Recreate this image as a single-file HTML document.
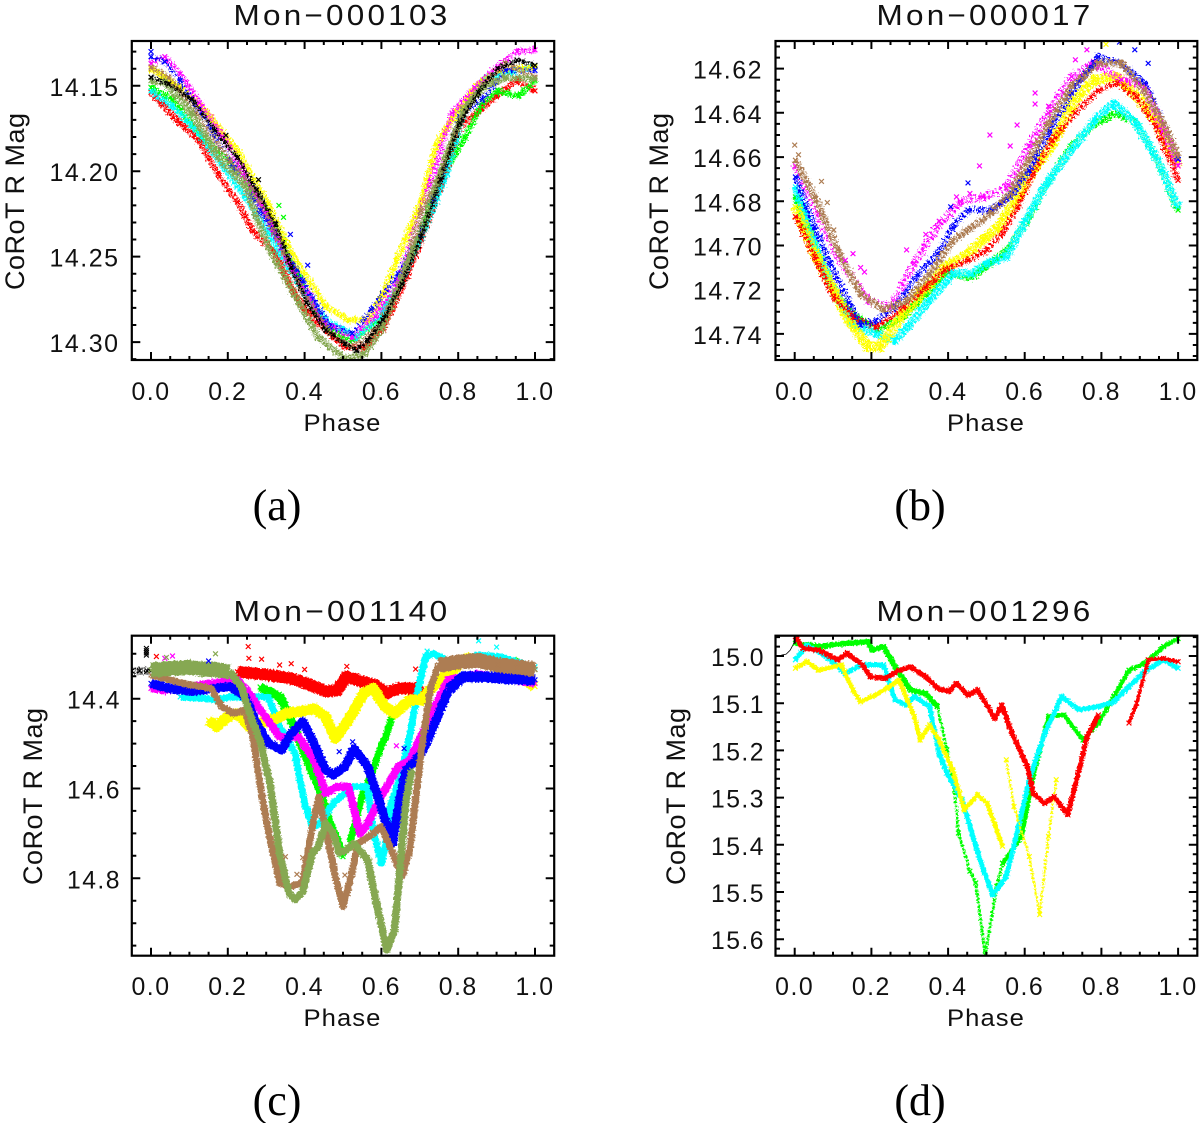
<!DOCTYPE html>
<html lang="en">
<head>
<meta charset="utf-8">
<title>CoRoT light curves</title>
<style>
html,body{margin:0;padding:0;background:#fff}
svg{display:block}
text{font-family:"Liberation Sans",sans-serif;fill:#111}
.cap{font-family:"Liberation Serif",serif;font-size:44px;fill:#000}
.title{font-size:29px;letter-spacing:3px}
.xt{font-size:24px;letter-spacing:1px}
.yt{font-size:27px}
.tk{font-size:25px;letter-spacing:1.5px}
</style>
</head>
<body>
<svg id="fig" xmlns="http://www.w3.org/2000/svg" width="1200" height="1123" viewBox="0 0 1200 1123">
<defs>
<filter id="fuzz1" filterUnits="userSpaceOnUse" x="0" y="0" width="1200" height="1123" color-interpolation-filters="sRGB"><feTurbulence type="fractalNoise" baseFrequency="0.55" numOctaves="1" seed="3" result="n"/><feDisplacementMap in="SourceGraphic" in2="n" scale="9" xChannelSelector="R" yChannelSelector="G"/></filter>
<filter id="fuzz2" filterUnits="userSpaceOnUse" x="0" y="0" width="1200" height="1123" color-interpolation-filters="sRGB"><feTurbulence type="fractalNoise" baseFrequency="0.6" numOctaves="1" seed="11" result="n"/><feDisplacementMap in="SourceGraphic" in2="n" scale="4.5" xChannelSelector="R" yChannelSelector="G"/></filter>
</defs>
<rect x="0" y="0" width="1200" height="1123" fill="#fff"/>
<g id="plots"></g>
<text class="title" x="342" y="25" text-anchor="middle" textLength="217" lengthAdjust="spacingAndGlyphs">Mon−000103</text>
<text class="title" x="985" y="25" text-anchor="middle" textLength="217" lengthAdjust="spacingAndGlyphs">Mon−000017</text>
<text class="title" x="342" y="621" text-anchor="middle" textLength="217" lengthAdjust="spacingAndGlyphs">Mon−001140</text>
<text class="title" x="985" y="621" text-anchor="middle" textLength="217" lengthAdjust="spacingAndGlyphs">Mon−001296</text>
<text class="xt" x="342.5" y="431" text-anchor="middle" textLength="78" lengthAdjust="spacingAndGlyphs">Phase</text>
<text class="xt" x="986" y="431" text-anchor="middle" textLength="78" lengthAdjust="spacingAndGlyphs">Phase</text>
<text class="xt" x="342.5" y="1026" text-anchor="middle" textLength="78" lengthAdjust="spacingAndGlyphs">Phase</text>
<text class="xt" x="986" y="1026" text-anchor="middle" textLength="78" lengthAdjust="spacingAndGlyphs">Phase</text>
<text class="yt" transform="translate(24,201.5) rotate(-90)" text-anchor="middle" textLength="177">CoRoT R Mag</text>
<text class="yt" transform="translate(668,201.5) rotate(-90)" text-anchor="middle" textLength="177">CoRoT R Mag</text>
<text class="yt" transform="translate(42,796.5) rotate(-90)" text-anchor="middle" textLength="177">CoRoT R Mag</text>
<text class="yt" transform="translate(685,796.5) rotate(-90)" text-anchor="middle" textLength="177">CoRoT R Mag</text>
<text class="cap" x="277" y="520" text-anchor="middle">(a)</text>
<text class="cap" x="920" y="520" text-anchor="middle">(b)</text>
<text class="cap" x="277" y="1115" text-anchor="middle">(c)</text>
<text class="cap" x="920" y="1115" text-anchor="middle">(d)</text>
</svg>
<script>
// ---------- shared axis values ----------
const xTickValues=[0,0.2,0.4,0.6,0.8,1.0];
const xTickLabels=["0.0","0.2","0.4","0.6","0.8","1.0"];

// ---------- panel a : Mon-000103 ----------
const aYTicks=[14.15,14.20,14.25,14.30];
const aYLabels=["14.15","14.20","14.25","14.30"];
const aRedP=[0,.076,.125,.175,.225,.265,.325,.375,.405,.465,.505,.555,.604,.654,.704,.754,.804,.853,.903,.953,1];
const aRedM=[14.154,14.172,14.182,14.202,14.218,14.235,14.249,14.272,14.282,14.295,14.303,14.303,14.292,14.268,14.240,14.210,14.174,14.165,14.155,14.147,14.153];
const aGreenP=[0,.055,.125,.205,.285,.345,.395,.455,.525,.585,.644,.704,.754,.818,.863,.903,.958,1];
const aGreenM=[14.151,14.158,14.178,14.195,14.217,14.24,14.268,14.291,14.299,14.288,14.268,14.236,14.205,14.18,14.16,14.153,14.156,14.147];
const aCyanP=[0,.056,.126,.245,.305,.385,.455,.534,.604,.654,.714,.764,.814,.873,.933,1];
const aCyanM=[14.153,14.162,14.178,14.215,14.236,14.266,14.287,14.297,14.283,14.264,14.233,14.205,14.166,14.145,14.142,14.139];
const aYellowP=[0,.076,.146,.225,.305,.365,.455,.514,.564,.604,.704,.744,.794,.853,.903,1];
const aYellowM=[14.14,14.151,14.166,14.188,14.219,14.248,14.279,14.287,14.287,14.272,14.217,14.184,14.166,14.149,14.141,14.139];
const aMagentaP=[0,.036,.076,.126,.205,.285,.355,.455,.524,.584,.644,.724,.784,.843,.903,.953,1];
const aMagentaM=[14.137,14.133,14.143,14.16,14.186,14.219,14.252,14.289,14.297,14.285,14.264,14.209,14.166,14.151,14.139,14.13,14.129];
const aBlueP=[0,.036,.076,.285,.325,.395,.465,.524,.574,.644,.704,.754,.804,.863,.923,1];
const aBlueM=[14.133,14.136,14.147,14.223,14.238,14.264,14.291,14.295,14.281,14.26,14.236,14.205,14.168,14.158,14.141,14.141];
const aBrownP=[0,.046,.116,.205,.285,.345,.405,.465,.524,.594,.654,.704,.754,.814,.863,.923,1];
const aBrownM=[14.139,14.145,14.166,14.194,14.217,14.248,14.275,14.295,14.303,14.291,14.264,14.223,14.201,14.166,14.149,14.137,14.145];
const aOliveP=[0,.036,.106,.175,.245,.305,.385,.435,.505,.554,.604,.664,.704,.754,.814,.863,.923,1];
const aOliveM=[14.147,14.148,14.166,14.192,14.209,14.244,14.277,14.297,14.31,14.307,14.291,14.256,14.236,14.201,14.164,14.151,14.145,14.146];
const aBlackP=[0,.046,.106,.166,.225,.275,.325,.365,.405,.455,.505,.534,.564,.604,.654,.704,.754,.804,.853,.903,.953,1];
const aBlackM=[14.145,14.149,14.158,14.176,14.192,14.211,14.231,14.256,14.277,14.293,14.301,14.305,14.299,14.287,14.266,14.238,14.205,14.172,14.154,14.140,14.135,14.138];
const aStrayGreenP=[.333,.345];
const aStrayGreenM=[14.22,14.227];
const aStrayBlueP=[.363,.408,0];
const aStrayBlueM=[14.237,14.255,14.13];
const aStrayBlackP=[.28,.195];
const aStrayBlackM=[14.205,14.179];

// ---------- panel b : Mon-000017 ----------
const bYTicks=[14.62,14.64,14.66,14.68,14.70,14.72,14.74];
const bYLabels=["14.62","14.64","14.66","14.68","14.70","14.72","14.74"];
const bRedP=[.002,.052,.102,.152,.212,.282,.342,.392,.452,.502,.542,.582,.622,.672,.732,.792,.842,.892,.942,1];
const bRedM=[14.687,14.705,14.7233,14.7324,14.737,14.728,14.719,14.711,14.7067,14.702,14.6946,14.6825,14.6675,14.6523,14.64,14.63,14.6266,14.6327,14.6463,14.6705];
const bGreenP=[.002,.052,.102,.152,.212,.282,.342,.392,.462,.512,.562,.612,.662,.722,.782,.842,.892,.942,1];
const bGreenM=[14.678,14.7007,14.7218,14.731,14.7384,14.7324,14.7218,14.7127,14.7143,14.708,14.7007,14.687,14.6705,14.6553,14.6448,14.6402,14.6448,14.66,14.684];
const bCyanP=[.002,.052,.102,.152,.212,.262,.302,.352,.412,.462,.502,.552,.602,.662,.722,.782,.832,.892,.942,1];
const bCyanM=[14.6735,14.6992,14.7203,14.7354,14.74,14.743,14.7354,14.7248,14.7127,14.7127,14.708,14.7052,14.6886,14.6705,14.6568,14.6433,14.6357,14.6448,14.66,14.6825];
const bYellowP=[.002,.052,.102,.142,.192,.222,.282,.392,.442,.492,.532,.572,.622,.672,.732,.782,.842,.892,.942,1];
const bYellowM=[14.6825,14.7037,14.7203,14.734,14.746,14.746,14.731,14.7097,14.705,14.6976,14.6916,14.681,14.666,14.654,14.634,14.625,14.6236,14.6327,14.643,14.664];
const bMagentaP=[.002,.062,.112,.192,.252,.312,.372,.432,.492,.552,.612,.662,.722,.782,.852,.912,.962,1];
const bMagentaM=[14.664,14.6855,14.705,14.725,14.728,14.708,14.6916,14.68,14.678,14.674,14.655,14.64,14.6236,14.6176,14.625,14.628,14.648,14.664];
const bBlueP=[.002,.052,.092,.142,.172,.212,.262,.322,.372,.412,.452,.512,.562,.612,.662,.722,.792,.852,.912,.962,1];
const bBlueM=[14.669,14.6916,14.708,14.726,14.736,14.734,14.728,14.713,14.7037,14.6916,14.684,14.684,14.678,14.666,14.649,14.631,14.6146,14.6176,14.6266,14.645,14.661];
const bBrownP=[.002,.052,.112,.172,.232,.292,.352,.412,.452,.512,.562,.612,.662,.722,.792,.852,.912,.962,1];
const bBrownM=[14.6614,14.678,14.702,14.722,14.729,14.725,14.713,14.698,14.693,14.6855,14.6765,14.661,14.645,14.628,14.6175,14.6175,14.63,14.645,14.66];
const bStrayMagentaP=[.172,.132,.152,.182,.292,.342,.377,.422,.457,.482,.509,.562,.58,.627,.627,.662,.732,.762];
const bStrayMagentaM=[14.71,14.7067,14.7037,14.712,14.702,14.695,14.689,14.678,14.6765,14.664,14.65,14.655,14.6455,14.631,14.636,14.637,14.616,14.6115];
const bStrayBlueP=[.452,.407,.847,.887,.922];
const bStrayBlueM=[14.6717,14.6825,14.608,14.6115,14.6176];
const bStrayBrownP=[0,.01,.07,.085,.102];
const bStrayBrownM=[14.6546,14.659,14.671,14.6806,14.693];
const bStrayYellowP=[.812];
const bStrayYellowM=[14.609];

// ---------- panel c : Mon-001140 ----------
const cYTicks=[14.4,14.6,14.8];
const cYLabels=["14.4","14.6","14.8"];
const cBlackP=[-.05,-.03,-.01,0];
const cBlackM=[14.338,14.338,14.338,14.338];
const cRedP=[.225,.305,.365,.405,.455,.485,.509,.534,.584,.614,.644,.694,.709];
const cRedM=[14.34,14.347,14.355,14.366,14.384,14.381,14.351,14.358,14.37,14.388,14.377,14.377,14.403];
const cGreenTopP=[.284,.336,.362,.414,.44,.461,.487,.5];
const cGreenTopM=[14.374,14.396,14.441,14.552,14.603,14.67,14.721,14.752];
const cGreenRiseP=[.518,.536,.552,.578,.596,.615,.63,.643,.661];
const cGreenRiseM=[14.721,14.663,14.61,14.559,14.514,14.476,14.432,14.425,14.414];
const cGreenRightP=[.79,.85,.95,1];
const cGreenRightM=[14.325,14.31,14.315,14.335];
const cCyanP=[.076,.126,.175,.205,.305,.335,.375,.4,.42,.44,.475,.525,.564,.579,.6,.61,.625,.65,.675,.695,.715,.735,.785,.853,.903,1];
const cCyanM=[14.396,14.399,14.403,14.396,14.396,14.462,14.522,14.633,14.685,14.678,14.633,14.596,14.596,14.692,14.767,14.73,14.633,14.574,14.477,14.381,14.306,14.299,14.321,14.303,14.306,14.329];
const cYellowP=[.15,.17,.2,.229,.255,.325,.35,.385,.425,.455,.48,.514,.554,.579,.609,.634,.674,.704,.734,.769,.823,.903,1];
const cYellowM=[14.448,14.462,14.44,14.433,14.462,14.444,14.433,14.429,14.422,14.44,14.488,14.448,14.388,14.377,14.418,14.433,14.403,14.403,14.373,14.347,14.31,14.321,14.373];
const cMagentaP=[0,.036,.225,.255,.285,.335,.385,.425,.455,.485,.514,.544,.564,.604,.644,.674,.744,.774,.85,1];
const cMagentaM=[14.377,14.381,14.358,14.388,14.425,14.485,14.485,14.537,14.611,14.596,14.596,14.70,14.678,14.611,14.551,14.537,14.41,14.358,14.345,14.366];
const cBlueP=[0,.046,.106,.166,.205,.245,.275,.305,.34,.365,.395,.42,.455,.475,.505,.529,.564,.594,.629,.644,.664,.689,.709,.739,.774];
const cBlueM=[14.366,14.377,14.384,14.377,14.373,14.396,14.455,14.499,14.514,14.477,14.451,14.492,14.559,14.57,14.551,14.511,14.551,14.626,14.722,14.641,14.559,14.537,14.514,14.455,14.381];
const cBlueFlatP=[.774,.813,.863,.923,1];
const cBlueFlatM=[14.381,14.351,14.351,14.355,14.358];
const cBrownP=[0,.046,.106,.156,.185,.215,.245,.265,.285,.305,.335,.365,.395,.415,.437,.455,.48,.5,.519,.539,.569,.599,.619,.654,.674,.704,.729,.749];
const cBrownM=[14.347,14.358,14.37,14.377,14.418,14.433,14.425,14.485,14.596,14.692,14.811,14.819,14.808,14.707,14.618,14.692,14.796,14.863,14.804,14.722,14.707,14.685,14.722,14.796,14.737,14.514,14.373,14.325];
const cBrownFlatP=[.749,.804,.853,.903,.953,1];
const cBrownFlatM=[14.325,14.318,14.315,14.325,14.329,14.335];
const cOliveFlatP=[0,.046,.096,.126,.175,.205];
const cOliveFlatM=[14.336,14.333,14.33,14.333,14.336,14.34];
const cOliveDipP=[.205,.235,.26,.285,.31,.335,.36,.375,.395,.42,.435,.455,.475,.49,.509,.529,.564,.589,.614,.634,.649,.664,.679];
const cOliveDipM=[14.34,14.373,14.44,14.496,14.589,14.744,14.834,14.848,14.83,14.744,14.73,14.678,14.70,14.744,14.737,14.722,14.759,14.863,14.96,14.915,14.774,14.626,14.559];
const cStrayRedP=[.253,.255,.288,.014,.689,.335,.365,.4,.51];
const cStrayRedM=[14.284,14.31,14.312,14.306,14.334,14.325,14.322,14.335,14.328];
const cStrayMagentaP=[.056,.036,.639];
const cStrayMagentaM=[14.305,14.31,14.505];
const cStrayBrownP=[.38,.395,.35,.505];
const cStrayBrownM=[14.791,14.754,14.752,14.793];
const cStrayOliveP=[.168,.04];
const cStrayOliveM=[14.3,14.308];
const cStrayCyanP=[.853,.719,.9];
const cStrayCyanM=[14.271,14.294,14.285];
const cStrayBlueP=[.15,.49,.659,.525];
const cStrayBlueM=[14.316,14.518,14.511,14.496];
const cStrayBlackP=[-.012,-.012,-.012,-.012];
const cStrayBlackM=[14.288,14.293,14.298,14.303];

// ---------- panel d : Mon-001296 ----------
const dYTicks=[15.0,15.1,15.2,15.3,15.4,15.5,15.6];
const dYLabels=["15.0","15.1","15.2","15.3","15.4","15.5","15.6"];
const dBlackP=[-.035,-.022,-.012,-.004,.002];
const dBlackM=[14.998,14.996,14.988,14.976,14.965];
const dRedAP=[.002,.022,.062,.112,.137,.177,.197,.237,.272,.302,.342,.372,.402,.422,.452,.477,.522,.54,.567,.607,.622,.652,.677,.712,.742,.762,.792];
const dRedAM=[14.959,14.984,14.987,15.008,14.994,15.019,15.044,15.047,15.03,15.023,15.044,15.068,15.075,15.058,15.083,15.072,15.132,15.104,15.164,15.234,15.291,15.312,15.298,15.336,15.241,15.171,15.125];
const dRedBP=[.872,.892,.922,.962,1];
const dRedBM=[15.142,15.1,15.008,15.005,15.012];
const dGreenAP=[.002,.067,.132,.192,.202,.232,.262,.302,.342,.372];
const dGreenAM=[14.973,14.98,14.973,14.97,14.987,14.98,15.023,15.072,15.079,15.107];
const dGreenBP=[.372,.397,.417,.427,.457,.472,.497,.527,.542];
const dGreenBM=[15.107,15.199,15.284,15.375,15.456,15.481,15.633,15.488,15.439];
const dGreenCP=[.542,.592,.622,.662,.702,.752,.792,.832,.872,.912,.962,1];
const dGreenCM=[15.439,15.382,15.255,15.128,15.125,15.178,15.142,15.086,15.03,15.016,14.98,14.963];
const dCyanP=[.002,.032,.082,.132,.172,.232,.262,.292,.312,.352,.377,.397,.437,.462,.492,.517,.552,.582,.612,.652,.697,.742,.792,.832,.872,.912,.962,1];
const dCyanM=[15.008,14.977,15.001,15.037,15.019,15.019,15.093,15.104,15.086,15.107,15.206,15.248,15.305,15.375,15.453,15.506,15.467,15.368,15.262,15.164,15.086,15.114,15.107,15.097,15.065,15.033,15.008,15.026];
const dYellowAP=[.002,.032,.062,.122,.152,.172,.202,.242,.272,.312,.327,.352,.377,.412,.442,.477,.502,.542];
const dYellowAM=[15.026,15.012,15.03,15.019,15.072,15.097,15.086,15.068,15.051,15.128,15.178,15.146,15.178,15.241,15.326,15.294,15.312,15.403];
const dYellowBP=[.552,.572,.612,.639,.662,.682];
const dYellowBM=[15.22,15.319,15.425,15.548,15.382,15.262];

// ---------- colours ----------
const RED="#ff0000",GREEN="#00ff00",BLUE="#0000ff",CYAN="#00ffff",YELLOW="#ffff00",MAGENTA="#ff00ff",BROWN="#ad7d53",OLIVE="#86a852",BLACK="#000000";

// ---------- panels ----------
const panels=[
 {id:"a",left:131.8,right:554.2,top:41,bottom:360,yMin:14.1238,yMax:14.3105,yTicks:aYTicks,yLabels:aYLabels,yMinor:0.01,labelRight:119.5,labelW:70,xBase:400,fuzz:"fuzz1",
  series:[
  ["red",RED,aRedP,aRedM,6,"3 1"],["green",GREEN,aGreenP,aGreenM,6,"3 1"],["cyan",CYAN,aCyanP,aCyanM,6,"3 1"],["yellow",YELLOW,aYellowP,aYellowM,6,"3 1"],["magenta",MAGENTA,aMagentaP,aMagentaM,6,"2 2"],["blue",BLUE,aBlueP,aBlueM,5,"2 2.5"],["brown",BROWN,aBrownP,aBrownM,6,"2 2"],["olive",OLIVE,aOliveP,aOliveM,7,"3 1"],["black",BLACK,aBlackP,aBlackM,4,"3 1.5"],
  ["stray-green",GREEN,aStrayGreenP,aStrayGreenM,0,""],["stray-blue",BLUE,aStrayBlueP,aStrayBlueM,0,""],["stray-black",BLACK,aStrayBlackP,aStrayBlackM,0,""]]},
 {id:"b",left:775.5,right:1197.3,top:41,bottom:360,yMin:14.6075,yMax:14.7518,yTicks:bYTicks,yLabels:bYLabels,yMinor:0.005,labelRight:763,labelW:70,xBase:400,fuzz:"fuzz1",
  series:[
  ["green",GREEN,bGreenP,bGreenM,7,"3 1"],["cyan",CYAN,bCyanP,bCyanM,8,"3 1"],["yellow",YELLOW,bYellowP,bYellowM,10,"3 1"],["red",RED,bRedP,bRedM,6,"2.5 2"],["magenta",MAGENTA,bMagentaP,bMagentaM,8,"2 2.5"],["blue",BLUE,bBlueP,bBlueM,6,"2.5 2"],["brown",BROWN,bBrownP,bBrownM,7,"3 1.5"],
  ["stray-magenta",MAGENTA,bStrayMagentaP,bStrayMagentaM,0,""],["stray-blue",BLUE,bStrayBlueP,bStrayBlueM,0,""],["stray-brown",BROWN,bStrayBrownP,bStrayBrownM,0,""],["stray-yellow",YELLOW,bStrayYellowP,bStrayYellowM,0,""]]},
 {id:"c",left:131.8,right:554.2,top:635.7,bottom:955.7,yMin:14.2597,yMax:14.9724,yTicks:cYTicks,yLabels:cYLabels,yMinor:0.05,labelRight:121,labelW:54,xBase:995,fuzz:"fuzz2",
  series:[
  ["black",BLACK,cBlackP,cBlackM,8,"1 1.5"],["red",RED,cRedP,cRedM,12,""],["green-top",GREEN,cGreenTopP,cGreenTopM,9,""],["green-rise",GREEN,cGreenRiseP,cGreenRiseM,7,""],["green-right",GREEN,cGreenRightP,cGreenRightM,6,""],["cyan",CYAN,cCyanP,cCyanM,7,""],["yellow",YELLOW,cYellowP,cYellowM,11,""],["magenta",MAGENTA,cMagentaP,cMagentaM,8,""],["blue",BLUE,cBlueP,cBlueM,9,""],["blue-flat",BLUE,cBlueFlatP,cBlueFlatM,11,""],["brown",BROWN,cBrownP,cBrownM,7,""],["brown-flat",BROWN,cBrownFlatP,cBrownFlatM,15,""],["olive-flat",OLIVE,cOliveFlatP,cOliveFlatM,15,""],["olive-dip",OLIVE,cOliveDipP,cOliveDipM,7.5,""],
  ["stray-red",RED,cStrayRedP,cStrayRedM,0,""],["stray-magenta",MAGENTA,cStrayMagentaP,cStrayMagentaM,0,""],["stray-brown",BROWN,cStrayBrownP,cStrayBrownM,0,""],["stray-olive",OLIVE,cStrayOliveP,cStrayOliveM,0,""],["stray-cyan",CYAN,cStrayCyanP,cStrayCyanM,0,""],["stray-blue",BLUE,cStrayBlueP,cStrayBlueM,0,""],["stray-black",BLACK,cStrayBlackP,cStrayBlackM,0,""]]},
 {id:"d",left:775.5,right:1197.3,top:635.7,bottom:955.7,yMin:14.957,yMax:15.635,yTicks:dYTicks,yLabels:dYLabels,yMinor:0.02,labelRight:765,labelW:54,xBase:995,fuzz:"fuzz2",
  series:[
  ["black",BLACK,dBlackP,dBlackM,0.8,""],["green-a",GREEN,dGreenAP,dGreenAM,5.5,""],["green-b",GREEN,dGreenBP,dGreenBM,3,"3 1"],["green-c",GREEN,dGreenCP,dGreenCM,4.5,""],["cyan",CYAN,dCyanP,dCyanM,5,""],["yellow-a",YELLOW,dYellowAP,dYellowAM,4.5,""],["yellow-b",YELLOW,dYellowBP,dYellowBM,2.5,"3 1"],["red-a",RED,dRedAP,dRedAM,5,""],["red-b",RED,dRedBP,dRedBM,3.5,""]]}
];

const NS="http://www.w3.org/2000/svg";
const plots=document.getElementById("plots");
function mk(tag,attrs,parent){
  const e=document.createElementNS(NS,tag);
  for(const k in attrs){e.setAttribute(k,attrs[k]);}
  parent.appendChild(e);
  return e;
}
function xScale(p,v){return p.left+(v+0.05)/1.1*(p.right-p.left);}
function yScale(p,v){return p.top+(v-p.yMin)/(p.yMax-p.yMin)*(p.bottom-p.top);}

panels.forEach(function(p){
  const g=mk("g",{},plots);
  
  

  const clip=mk("clipPath",{id:"clip-"+p.id},g);
  mk("rect",{x:p.left,y:p.top,width:p.right-p.left,height:p.bottom-p.top},clip);

  const marks=mk("g",{"clip-path":"url(#clip-"+p.id+")"},g);
  
  

  p.series.forEach(function(s){
    const name=s[0],color=s[1],ph=s[2],mg=s[3],w=s[4],dash=s[5];
    const sg=mk("g",{},marks);
    
    
    const pts=ph.map(function(v,i){return [xScale(p,v),yScale(p,mg[i])];});
    if(w>0){
      const line=mk("polyline",{points:pts.map(function(q){return q[0].toFixed(1)+","+q[1].toFixed(1);}).join(" "),fill:"none",stroke:color,"stroke-width":w,"stroke-linejoin":"round"},sg);
      if(dash){line.setAttribute("stroke-dasharray",dash);}
      if(w>=2){line.setAttribute("filter","url(#"+p.fuzz+")");}
      
      
    }
    const d=pts.map(function(q){
      const x=q[0],y=q[1],r=2.4;
      return "M"+(x-r).toFixed(1)+" "+(y-r).toFixed(1)+"L"+(x+r).toFixed(1)+" "+(y+r).toFixed(1)+"M"+(x-r).toFixed(1)+" "+(y+r).toFixed(1)+"L"+(x+r).toFixed(1)+" "+(y-r).toFixed(1);
    }).join("");
    const m=mk("path",{d:d,fill:"none",stroke:color,"stroke-width":1.2,opacity:w>0&&w<2?0:1},sg);
    
    
  });

  const box=mk("rect",{x:p.left,y:p.top,width:p.right-p.left,height:p.bottom-p.top,fill:"none",stroke:"#000","stroke-width":2.2},g);
  
  

  const ticks=mk("g",{stroke:"#000","stroke-width":2},g);
  
  
  let td="";
  for(let i=0;i<=20;i++){
    const x=xScale(p,i*0.05).toFixed(1);
    const len=i%4===0?8:4;
    td+="M"+x+" "+p.bottom+"V"+(p.bottom-len)+"M"+x+" "+p.top+"V"+(p.top+len);
  }
  const steps=Math.round((p.yTicks[1]-p.yTicks[0])/p.yMinor);
  for(let i=-steps;i<=(p.yTicks.length+1)*steps;i++){
    const v=p.yTicks[0]+i*p.yMinor;
    if(v<p.yMin||v>p.yMax){continue;}
    const y=yScale(p,v).toFixed(1);
    const len=((i%steps)+steps)%steps===0?8.5:4.5;
    td+="M"+p.left+" "+y+"H"+(p.left+len)+"M"+p.right+" "+y+"H"+(p.right-len);
  }
  mk("path",{d:td,fill:"none"},ticks);

  xTickValues.forEach(function(v,i){
    const t=mk("text",{class:"tk",x:xScale(p,v),y:p.xBase,"text-anchor":"middle",textLength:39,lengthAdjust:"spacingAndGlyphs"},g);
    t.textContent=xTickLabels[i];
    
    
  });
  p.yTicks.forEach(function(v,i){
    const t=mk("text",{class:"tk",x:p.labelRight-p.labelW,y:yScale(p,v)+10,textLength:p.labelW,lengthAdjust:"spacingAndGlyphs"},g);
    t.textContent=p.yLabels[i];
    
    
  });
});
</script>
</body>
</html>
